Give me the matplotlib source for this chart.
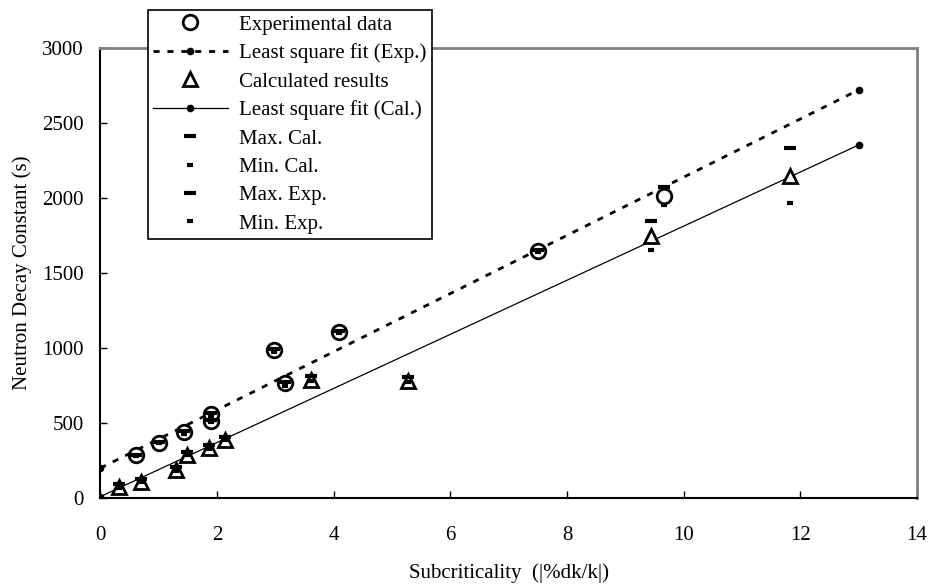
import matplotlib.pyplot as plt

plt.rcParams['font.family'] = ['Liberation Serif', 'DejaVu Serif']

# Experimental data (circles)
exp_x = [0.62, 1.01, 1.43, 1.89, 1.89, 2.97, 3.16, 4.09, 7.50, 9.67]
exp_y = [285, 370, 440, 515, 560, 990, 770, 1110, 1650, 2010]
exp_max = [290, 375, 445, 520, 565, 995, 775, 1115, 1655, 2071]
exp_min = [280, 365, 430, 505, 550, 975, 745, 1100, 1640, 1953]

# Calculated results (triangles)
cal_x = [0.32, 0.70, 1.30, 1.48, 1.86, 2.14, 3.62, 5.27, 9.44, 11.82]
cal_y = [75, 110, 185, 290, 335, 390, 785, 780, 1745, 2145]
cal_max = [95, 130, 205, 310, 355, 410, 815, 810, 1845, 2330]
cal_min = [70, 105, 180, 285, 330, 385, 780, 775, 1655, 1965]

# Least square fits (end points)
fit_x = [0, 13]
fit_exp = [200, 2720]
fit_cal = [10, 2353]

fig = plt.figure(figsize=(9.29, 5.84), dpi=100)
ax = fig.add_axes([0.108, 0.147, 0.879, 0.771])

fs = 15

ax.plot(exp_x, exp_y, 'o', ms=10.5, mfc='white', mec='black', mew=2,
        label='Experimental data', zorder=3)
ax.plot(fit_x, fit_exp, color='black', lw=2, ls=(0, (2.2, 2.8)), marker='o', ms=4.5,
        label='Least square fit (Exp.)', zorder=2)
ax.plot(cal_x, cal_y, '^', ms=10.5, mfc='white', mec='black', mew=2,
        label='Calculated results', zorder=3)
ax.plot(fit_x, fit_cal, color='black', lw=0.9, marker='o', ms=4.5,
        label='Least square fit (Cal.)', zorder=2)
ax.plot(cal_x, cal_max, '_', ms=8, mew=3, color='black', label='Max. Cal.', zorder=4)
ax.plot(cal_x, cal_min, '_', ms=5, mew=3, color='black', label='Min. Cal.', zorder=4)
ax.plot(exp_x, exp_max, '_', ms=8, mew=3, color='black', label='Max. Exp.', zorder=4)
ax.plot(exp_x, exp_min, '_', ms=5, mew=3, color='black', label='Min. Exp.', zorder=4)

ax.set_xlim(0, 14)
ax.set_ylim(0, 3000)
ax.set_xticks(range(0, 15, 2))
ax.set_yticks(range(0, 3001, 500))
ax.tick_params(direction='in', length=5, width=1, labelsize=fs)
ax.tick_params(axis='x', pad=20)
ax.tick_params(axis='y', pad=12)

for s in ['left', 'bottom']:
    ax.spines[s].set_linewidth(1.5)
    ax.spines[s].set_color('black')
for s in ['top', 'right']:
    ax.spines[s].set_linewidth(2)
    ax.spines[s].set_color('#808080')

ax.set_xlabel('Subcriticality  (|%dk/k|)', fontsize=fs, labelpad=13)
ax.set_ylabel('Neutron Decay Constant (s)', fontsize=fs, labelpad=7)

leg = ax.legend(loc='upper left', bbox_to_anchor=(0.159, 0.983),
                bbox_transform=fig.transFigure, fontsize=fs, frameon=True,
                fancybox=False, edgecolor='black', framealpha=1,
                numpoints=1, handlelength=3.6, handletextpad=0.55,
                labelspacing=0.42, borderpad=0.25, borderaxespad=0)
leg.get_frame().set_linewidth(1.2)
leg.set_zorder(10)

fig.savefig('out.png', dpi=100)
